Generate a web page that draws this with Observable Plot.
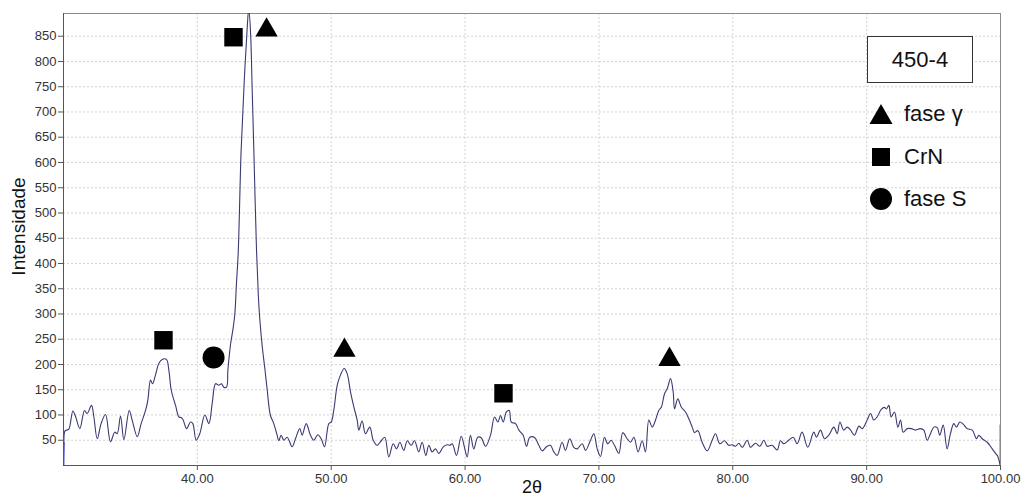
<!DOCTYPE html>
<html>
<head>
<meta charset="utf-8">
<script src="https://cdn.jsdelivr.net/npm/d3@7"></script>
<script src="https://cdn.jsdelivr.net/npm/@observablehq/plot@0.6"></script>
<style>
  html, body { margin: 0; padding: 0; background: #fff; }
  #wrap { position: relative; width: 1028px; height: 503px; font-family: "Liberation Sans", Arial, sans-serif; color: #111; }
  .lg-box { position: absolute; left: 867px; top: 36px; width: 104px; height: 45px; border: 1px solid #333; background: #fff;
            display: flex; align-items: center; justify-content: center; font-size: 22px; }
  .lg-item { position: absolute; left: 868px; height: 26px; display: flex; align-items: center; font-size: 22px; }
  .lg-item svg { width: 26px; height: 26px; margin-right: 10px; }
</style>
</head>
<body>
<div id="wrap"></div>
<script>
// ---- data ----
const twoTheta = [30.00,30.02,30.10,30.22,30.40,30.70,30.90,31.22,31.57,31.77,32.09,32.27,32.52,32.81,33.14,33.51,33.83,34.01,34.26,34.51,34.91,35.13,35.51,35.80,36.13,36.30,36.50,36.65,36.87,37.12,37.37,37.69,37.87,38.05,38.37,38.62,38.79,38.94,39.19,39.49,39.66,39.91,40.18,40.56,40.86,41.11,41.36,41.60,41.80,41.98,42.18,42.28,42.48,42.65,42.80,42.92,43.05,43.27,43.50,43.72,43.84,43.97,44.10,44.22,44.42,44.55,44.67,44.85,45.05,45.22,45.46,45.71,45.96,46.08,46.26,46.46,46.71,47.08,47.33,47.65,47.83,48.13,48.45,48.70,49.00,49.25,49.50,49.82,50.00,50.19,50.45,50.69,50.97,51.19,51.44,51.69,51.94,52.06,52.31,52.56,52.88,53.14,53.43,53.68,54.00,54.30,54.63,54.88,55.13,55.42,55.68,55.97,56.22,56.54,56.79,57.07,57.29,57.54,57.79,58.04,58.37,58.66,58.86,59.04,59.36,59.71,59.98,60.16,60.40,60.65,60.95,61.20,61.53,61.90,62.20,62.45,62.65,62.85,63.09,63.30,63.45,63.77,64.02,64.34,64.59,64.84,65.21,65.51,65.76,66.08,66.38,66.63,66.88,67.25,67.50,67.82,68.12,68.37,68.75,69.00,69.37,69.62,69.87,70.12,70.41,70.66,70.91,71.16,71.49,71.78,72.11,72.36,72.61,72.93,73.23,73.48,73.73,73.98,74.23,74.47,74.67,74.90,75.10,75.35,75.55,75.65,75.89,76.15,76.47,76.71,76.97,77.14,77.39,77.71,78.09,78.46,78.71,79.03,79.38,79.70,79.95,80.20,80.45,80.70,81.08,81.32,81.70,82.02,82.32,82.57,82.94,83.32,83.56,83.81,84.18,84.51,84.81,85.18,85.60,86.05,86.25,86.55,86.85,87.17,87.55,87.80,88.00,88.29,88.55,88.80,89.09,89.42,89.67,90.04,90.29,90.53,90.78,91.09,91.33,91.48,91.66,91.83,92.08,92.33,92.53,92.73,93.03,93.33,93.65,94.02,94.27,94.52,94.77,95.02,95.27,95.46,95.72,96.01,96.26,96.51,96.71,96.96,97.21,97.51,97.89,98.21,98.38,98.63,99.01,99.38,99.63,99.80,100.00,100.00];
const intensity = [0,45,68,70,72,108,97,73,109,103,119,96,53,83,101,47,66,63,98,51,109,90,57,83,109,129,169,162,179,202,210,210,189,149,119,96,95,90,73,86,83,50,63,100,83,123,162,159,162,155,155,189,240,268,300,360,420,624,760,865,905,860,740,624,426,340,288,235,190,149,99,83,60,49,60,50,56,37,53,73,60,83,60,50,61,53,37,83,86,109,159,179,192,182,146,116,90,70,88,63,76,50,40,47,56,17,43,33,46,30,49,40,49,27,46,20,40,27,33,24,37,41,40,43,20,58,33,17,60,33,56,55,38,60,96,86,99,86,106,109,86,83,70,60,38,56,55,40,29,37,40,27,20,46,30,53,36,33,43,30,50,63,33,18,56,43,50,40,24,65,53,46,56,27,49,27,90,76,90,109,116,142,152,172,145,112,132,116,106,93,76,65,69,46,29,50,63,43,49,40,41,38,44,36,50,36,44,38,50,38,40,31,49,43,50,56,43,66,36,66,56,70,53,60,76,63,86,70,76,70,60,78,73,90,103,90,96,111,115,112,119,96,106,76,90,66,73,73,70,73,70,50,63,76,75,60,80,33,63,83,76,86,82,73,70,53,60,53,46,33,24,18,0,80];

// phase markers placed above peaks
const markerTheta = [42.70, 45.17, 37.47, 41.21, 50.99, 62.87, 75.27];
const markerInt   = [848, 862, 248, 214, 228, 143, 210];
const markerPhase = ["CrN", "fase γ", "CrN", "fase S", "fase γ", "CrN", "fase γ"];

const xTicks = [40, 50, 60, 70, 80, 90, 100];
const yTicks = [50, 100, 150, 200, 250, 300, 350, 400, 450, 500, 550, 600, 650, 700, 750, 800, 850];
const sampleLabel = "450-4";
const legendPhases = ["fase γ", "CrN", "fase S"];

const xDomain = [30, 100];
const yDomain = [0, 895];

// ---- build tables ----
const curve = twoTheta.map((t, i) => ({t, v: intensity[i]}));
const markers = markerTheta.map((t, i) => ({t, v: markerInt[i], phase: markerPhase[i]}));
const symOf = {"fase γ": "triangle", "CrN": "square", "fase S": "circle"};
const rOf = {"fase γ": 8.3, "CrN": 10.4, "fase S": 11};

const dotMarks = legendPhases.map(p => Plot.dot(markers.filter(d => d.phase === p), {
  x: "t", y: "v", symbol: symOf[p], r: rOf[p], fill: "#000", stroke: "none"
}));

const chart = Plot.plot({
  width: 1028,
  height: 503,
  marginLeft: 63,
  marginRight: 28,
  marginTop: 13,
  marginBottom: 38,
  style: {fontFamily: "Liberation Sans, Arial, sans-serif", fontSize: "13px", color: "#333", background: "#fff"},
  x: {domain: xDomain},
  y: {domain: yDomain},
  marks: [
    Plot.gridY(yTicks, {stroke: "#d4d4d4", strokeOpacity: 1, strokeDasharray: "2,2"}),
    Plot.gridX(xTicks.filter(d => d < 100), {stroke: "#d4d4d4", strokeOpacity: 1, strokeDasharray: "2,2"}),
    Plot.frame({stroke: "#8a8a8a"}),
    Plot.line(curve, {x: "t", y: "v", stroke: "#3a3a72", strokeWidth: 1.1, curve: "catmull-rom", clip: true}),
    Plot.line(curve.slice(0, 2), {x: "t", y: "v", stroke: "#1a1ad0", strokeWidth: 1.6, clip: true}),
    Plot.line(curve.slice(-2), {x: "t", y: "v", stroke: "#1a1ad0", strokeWidth: 1.6, clip: true}),
    ...dotMarks,
    Plot.ruleY([0], {stroke: "#555"}),
    Plot.ruleX([30], {stroke: "#555"}),
    Plot.axisX(xTicks, {tickFormat: d => d.toFixed(2), tickSize: 5, tickPadding: 3, fontSize: 13, label: null, stroke: "#555"}),
    Plot.axisY(yTicks, {tickSize: 5, tickPadding: 2, fontSize: 13, label: null, stroke: "#555"}),
    Plot.text(["2θ"], {frameAnchor: "bottom", dy: 27, fontSize: 18, fill: "#111"}),
    Plot.text(["Intensidade"], {frameAnchor: "left", textAnchor: "middle", dx: -45, dy: -13, rotate: -90, fontSize: 19, fill: "#111"})
  ]
});

const wrap = document.getElementById("wrap");
wrap.appendChild(chart);

// legend overlay (inside plot area, top-right)
const box = document.createElement("div");
box.className = "lg-box";
box.textContent = sampleLabel;
wrap.appendChild(box);

const shapes = {
  "fase γ": '<svg viewBox="0 0 26 26"><polygon points="13,3 24.5,23 1.5,23" fill="#000"/></svg>',
  "CrN": '<svg viewBox="0 0 26 26"><rect x="4" y="4" width="18" height="18" fill="#000"/></svg>',
  "fase S": '<svg viewBox="0 0 26 26"><circle cx="13" cy="13" r="11" fill="#000"/></svg>'
};
const tops = [101, 144, 186];
legendPhases.forEach((p, i) => {
  const it = document.createElement("div");
  it.className = "lg-item";
  it.style.top = tops[i] + "px";
  it.innerHTML = shapes[p];
  const s = document.createElement("span");
  s.textContent = p;
  it.appendChild(s);
  wrap.appendChild(it);
});
</script>
</body>
</html>
